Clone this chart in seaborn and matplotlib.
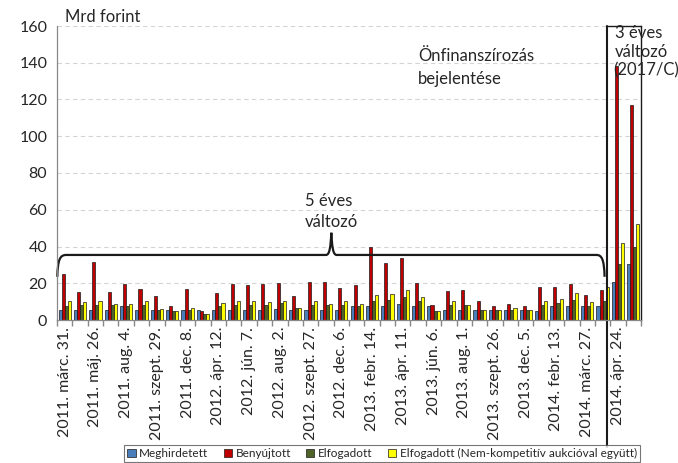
import numpy as np
import pandas as pd
import matplotlib
matplotlib.use("Agg")
import matplotlib.pyplot as plt
from matplotlib.path import Path
from matplotlib.patches import PathPatch
import seaborn as sns

# auction index 0..37 (36 five-year auctions, then two three-year ones)
tick_labels = [
    "2011. márc. 31.", "2011. máj. 26.", "2011. aug. 4.", "2011. szept. 29.",
    "2011. dec. 8.", "2012. ápr. 12.", "2012. jún. 7.", "2012. aug. 2.",
    "2012. szept. 27.", "2012. dec. 6.", "2013. febr. 14.", "2013. ápr. 11.",
    "2013. jún. 6.", "2013. aug. 1.", "2013. szept. 26.", "2013. dec. 5.",
    "2014. febr. 13.", "2014. márc. 27.", "2014. ápr. 24.",
]

series_names = ["Meghirdetett", "Benyújtott", "Elfogadott",
                "Elfogadott (Nem-kompetitív aukcióval együtt)"]

meghirdetett = [5.3, 5.3, 5.3, 5.3, 7.6, 5.3, 5.3, 5.3, 5.3, 5.3,
                5.3, 5.3, 5.3, 5.3, 6.2, 5.3, 5.3, 5.3, 5.3, 7.6,
                7.6, 7.6, 8.5, 7.6, 7.5, 5.3, 5.3, 5.3, 5.3, 5.3,
                5.3, 4.9, 7.5, 7.5, 7.5, 7.5, 20.5, 30.3]
benyujtott = [24.9, 15.3, 31.3, 15.3, 19.6, 16.7, 13.1, 7.6, 17.1, 4.7,
              14.7, 19.6, 19.3, 19.6, 20.2, 13.1, 20.5, 20.5, 17.5, 19.3,
              39.8, 30.9, 34.0, 20.2, 8.0, 16.0, 16.5, 10.2, 7.6, 8.9,
              7.6, 18.2, 17.8, 19.6, 13.8, 16.5, 138.0, 117.0]
elfogadott = [7.8, 8.0, 8.2, 8.2, 7.5, 8.0, 5.3, 5.1, 5.3, 3.5,
              7.6, 8.0, 8.2, 8.2, 9.3, 6.4, 8.2, 8.2, 8.0, 7.6,
              10.2, 10.9, 12.5, 10.2, 4.9, 8.0, 8.2, 5.3, 5.3, 5.3,
              5.3, 8.0, 9.1, 10.9, 7.5, 10.2, 30.3, 40.0]
elfogadott_nk = [10.4, 9.6, 10.2, 8.5, 8.5, 10.2, 6.2, 5.1, 6.7, 3.5,
                 9.3, 10.2, 10.2, 9.6, 10.2, 6.7, 10.2, 8.9, 10.2, 8.9,
                 13.5, 14.4, 16.5, 12.5, 4.9, 10.2, 8.2, 5.3, 5.3, 6.4,
                 5.3, 10.2, 11.5, 14.7, 9.6, 17.8, 41.7, 52.0]

colors = ["#4a7ebb", "#c00000", "#4f6228", "#ffff00"]

n = len(meghirdetett)
df = pd.DataFrame({
    "aukcio": list(range(n)) * 4,
    "sorozat": np.repeat(series_names, n),
    "ertek": meghirdetett + benyujtott + elfogadott + elfogadott_nk,
})

sns.set_theme(style="white")
plt.rcParams["font.family"] = ["Lato", "DejaVu Sans"]

W, H = 678, 463
fig = plt.figure(figsize=(W / 100, H / 100), dpi=100)
ax = fig.add_axes([57 / W, 1 - 320 / H, (641 - 57) / W, (320 - 26) / H])


def px(x, y):
    return x / W, 1 - y / H


sns.barplot(data=df, x="aukcio", y="ertek", hue="sorozat", hue_order=series_names,
            palette=colors, saturation=1, width=0.8, errorbar=None,
            edgecolor="#1a1a1a", linewidth=0.5, ax=ax)

handles, labels = ax.get_legend_handles_labels()
ax.get_legend().remove()

ax.set_xlim(-0.5, n - 0.5)
ax.set_ylim(0, 160)
ax.set_yticks(range(0, 161, 20))
ax.tick_params(axis="y", labelsize=11.5, length=4, color="#888888", pad=3)
ax.yaxis.grid(True, color="#d4d4d4", linestyle=(0, (4, 3)), linewidth=0.8)
ax.set_axisbelow(True)

ax.set_xticks(range(0, n - 1, 2))
ax.set_xticklabels(tick_labels, rotation=90, fontsize=11.5)
ax.set_xticks(np.arange(-0.5, n, 1), minor=True)
ax.tick_params(axis="x", which="major", length=0, pad=5)
ax.tick_params(axis="x", which="minor", length=4, color="#888888", bottom=True)
ax.set_xlabel("")
ax.set_ylabel("")

for side in ["left", "bottom"]:
    ax.spines[side].set_color("#888888")
    ax.spines[side].set_linewidth(0.9)
ax.spines["top"].set_visible(False)
ax.spines["right"].set_color("#1a1a1a")
ax.spines["right"].set_linewidth(1.0)

# box around the three-year auctions, line runs down to the legend
split = 35.3
trans = ax.get_xaxis_transform()
ax.plot([split, split], [-0.432, 1.0], transform=trans, color="#1a1a1a",
        linewidth=1.5, clip_on=False)
ax.plot([split, n - 0.5], [1.0, 1.0], transform=trans, color="#1a1a1a",
        linewidth=1.0, clip_on=False)

# curly brace over the five-year auctions
yb, ye, yp = 35.4, 23.5, 47.5
verts = [(-0.48, ye), (-0.45, 33.0), (-0.3, yb), (0.1, yb),
         (17.0, yb),
         (17.25, yb), (17.3, 40.0), (17.35, yp),
         (17.4, 40.0), (17.45, yb), (17.7, yb),
         (34.6, yb),
         (34.95, yb), (35.1, 33.0), (35.13, ye)]
codes = [Path.MOVETO, Path.CURVE4, Path.CURVE4, Path.CURVE4,
         Path.LINETO,
         Path.CURVE4, Path.CURVE4, Path.CURVE4,
         Path.CURVE4, Path.CURVE4, Path.CURVE4,
         Path.LINETO,
         Path.CURVE4, Path.CURVE4, Path.CURVE4]
ax.add_patch(PathPatch(Path(verts, codes), facecolor="none", edgecolor="#1a1a1a",
                       linewidth=1.6, clip_on=False))

fs = 12
fig.text(*px(65, 17), "Mrd forint", fontsize=fs, va="center", ha="left")
fig.text(*px(418, 56), "Önfinanszírozás", fontsize=fs, va="center", ha="left")
fig.text(*px(418, 79), "bejelentése", fontsize=fs, va="center", ha="left")
fig.text(*px(305, 201), "5 éves", fontsize=fs, va="center", ha="left")
fig.text(*px(305, 222), "változó", fontsize=fs, va="center", ha="left")
fig.text(*px(615, 33), "3 éves", fontsize=fs, va="center", ha="left")
fig.text(*px(615, 52), "változó", fontsize=fs, va="center", ha="left")
fig.text(*px(613, 70), "(2017/C)", fontsize=fs, va="center", ha="left")

leg = fig.legend(handles, labels, loc="lower center", bbox_to_anchor=(382 / W, 0.0),
                 ncol=4, frameon=True, fancybox=False, fontsize=8.5,
                 handlelength=0.7, handleheight=0.7, handletextpad=0.3,
                 columnspacing=1.3, borderpad=0.25, borderaxespad=0.1)
leg.get_frame().set_edgecolor("#555555")
leg.get_frame().set_linewidth(0.8)

fig.savefig("out.png", dpi=100)
